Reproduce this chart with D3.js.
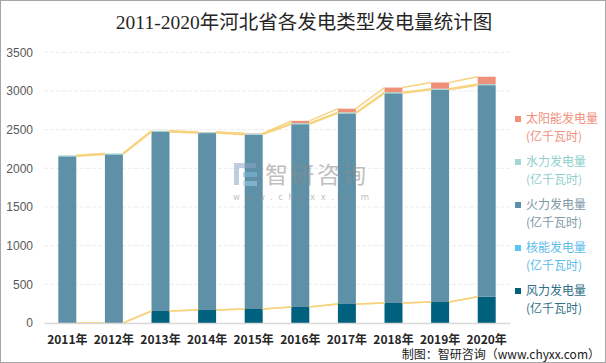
<!DOCTYPE html>
<html>
<head>
<meta charset="utf-8">
<script src="https://d3js.org/d3.v7.min.js"></script>
<style>
  body { margin: 0; background: #fff; }
  svg { display: block; }
</style>
</head>
<body>
<div id="chart"></div>
<script>
// data (亿千瓦时)
var years = ["2011年", "2012年", "2013年", "2014年", "2015年", "2016年", "2017年", "2018年", "2019年", "2020年"];
var wind = [0, 0, 155, 168, 181, 207, 246, 259, 272, 340];
var nuclear = [0, 0, 0, 0, 0, 0, 0, 0, 0, 0];
var thermal = [2155, 2180, 2315, 2287, 2254, 2363, 2464, 2711, 2743, 2735];
var hydro = [12, 12, 14, 12, 12, 14, 14, 14, 14, 14];
var solar = [0, 0, 2, 3, 5, 30, 47, 60, 81, 95];
var yTicks = [0, 500, 1000, 1500, 2000, 2500, 3000, 3500];

var seriesNames = ["风力发电量", "核能发电量", "火力发电量", "水力发电量", "太阳能发电量"];
var seriesData = [wind, nuclear, thermal, hydro, solar];
var colors = ["#00617f", "#5cc6f2", "#5e91a8", "#a0d8d3", "#ef9079"];
var textColors = ["#2f6f88", "#5cbbe8", "#7d98a6", "#8fd0cc", "#ef9079"];

var W = 606, H = 363;
var svg = d3.select("#chart").append("svg")
  .attr("width", W)
  .attr("height", H);

// outer border
svg.append("rect")
  .attr("x", 0.5).attr("y", 0.5)
  .attr("width", W - 1).attr("height", H - 1)
  .attr("fill", "#fff")
  .attr("stroke", "#a6a6a6");

// title
svg.append("text")
  .attr("x", 304)
  .attr("y", 29)
  .attr("text-anchor", "middle")
  .style("font-family", "'Liberation Serif', 'Noto Sans CJK SC', serif")
  .style("font-size", "19.5px")
  .style("fill", "#262626")
  .text("2011-2020年河北省各发电类型发电量统计图");

var x = d3.scaleBand()
  .domain(years)
  .range([44, 510])
  .paddingInner(0.614)
  .paddingOuter(0.307);

var y = d3.scaleLinear().domain([0, 3500]).range([323, 52.3]);

// grid
svg.append("g")
  .selectAll("line")
  .data(yTicks.slice(1))
  .join("line")
  .attr("x1", 44).attr("x2", 510)
  .attr("y1", function (d) { return y(d); })
  .attr("y2", function (d) { return y(d); })
  .attr("stroke", "#ececec")
  .attr("stroke-dasharray", "4,2");

// y axis labels
var yAxis = svg.append("g")
  .attr("transform", "translate(44,0)")
  .call(d3.axisLeft(y).tickValues(yTicks).tickFormat(d3.format("d")).tickSize(0).tickPadding(11));
yAxis.select(".domain").remove();
yAxis.selectAll("text")
  .style("font-family", "'Liberation Sans', 'Noto Sans CJK SC', sans-serif")
  .style("font-size", "12px")
  .style("fill", "#595959");

// stack
var rows = years.map(function (yr, i) {
  var r = { year: yr };
  seriesNames.forEach(function (s, k) { r[s] = seriesData[k][i]; });
  return r;
});
var stacked = d3.stack().keys(seriesNames)(rows);

svg.append("g")
  .selectAll("g")
  .data(stacked)
  .join("g")
  .attr("fill", function (d, k) { return colors[k]; })
  .selectAll("rect")
  .data(function (d) { return d; })
  .join("rect")
  .attr("x", function (d) { return x(d.data.year); })
  .attr("y", function (d) { return y(d[1]); })
  .attr("width", x.bandwidth())
  .attr("height", function (d) { return y(d[0]) - y(d[1]); });

// series lines between bars
var lineG = svg.append("g");
stacked.forEach(function (layer) {
  for (var i = 0; i < layer.length - 1; i++) {
    lineG.append("line")
      .attr("x1", x(years[i]) + x.bandwidth())
      .attr("y1", y(layer[i][1]))
      .attr("x2", x(years[i + 1]))
      .attr("y2", y(layer[i + 1][1]))
      .attr("stroke", "#f8d37f")
      .attr("stroke-width", 1.5);
  }
});

// bottom axis
var xAxis = svg.append("g")
  .attr("transform", "translate(0,323)")
  .call(d3.axisBottom(x).tickSize(0).tickPadding(12));
xAxis.select(".domain")
  .attr("stroke", "#d9d9d9")
  .attr("stroke-width", 1.5);
xAxis.selectAll("text")
  .style("font-family", "'Noto Sans CJK SC', sans-serif")
  .style("font-size", "12px")
  .style("font-weight", "bold")
  .style("fill", "#262626");

// legend (solar at top, wind at bottom)
var legend = svg.append("g");
var order = [4, 3, 2, 1, 0];
order.forEach(function (k, j) {
  var ly = 121 + j * 43;
  legend.append("rect")
    .attr("x", 515).attr("y", ly - 5)
    .attr("width", 6).attr("height", 6)
    .attr("fill", colors[k]);
  legend.append("text")
    .attr("x", 526).attr("y", ly + 2)
    .style("font-family", "'Noto Sans CJK SC', sans-serif")
    .style("font-size", "12px")
    .style("fill", textColors[k])
    .text(seriesNames[k]);
  legend.append("text")
    .attr("x", 526).attr("y", ly + 20)
    .style("font-family", "'Noto Sans CJK SC', sans-serif")
    .style("font-size", "12px")
    .style("fill", textColors[k])
    .text("(亿千瓦时)");
});

// watermark
var wm = svg.append("g").attr("opacity", 0.55);
wm.append("rect").attr("x", 234).attr("y", 163).attr("width", 22).attr("height", 5).attr("fill", "#8ea3c8");
wm.append("rect").attr("x", 234).attr("y", 163).attr("width", 5).attr("height", 22).attr("fill", "#8ea3c8");
wm.append("rect").attr("x", 243).attr("y", 172).attr("width", 14).attr("height", 5).attr("fill", "#7fb8e0");
wm.append("rect").attr("x", 243).attr("y", 181).attr("width", 14).attr("height", 5).attr("fill", "#9fcdea");
wm.append("text")
  .attr("x", 265).attr("y", 183)
  .style("font-family", "'Noto Sans CJK SC', sans-serif")
  .style("font-size", "23px")
  .style("fill", "#8c8c8c")
  .style("letter-spacing", "3px")
  .text("智研咨询");
wm.append("text")
  .attr("x", 233).attr("y", 200)
  .style("font-family", "'DejaVu Sans', sans-serif")
  .style("font-size", "8.5px")
  .style("fill", "#8c8c8c")
  .style("letter-spacing", "5.6px")
  .text("www.chyxx.com");

// footer
svg.append("text")
  .attr("x", 600).attr("y", 359)
  .attr("text-anchor", "end")
  .style("font-family", "'Noto Sans CJK SC', sans-serif")
  .style("font-size", "12px")
  .style("fill", "#1a1a1a")
  .text("制图：智研咨询（www.chyxx.com）");
</script>
</body>
</html>
